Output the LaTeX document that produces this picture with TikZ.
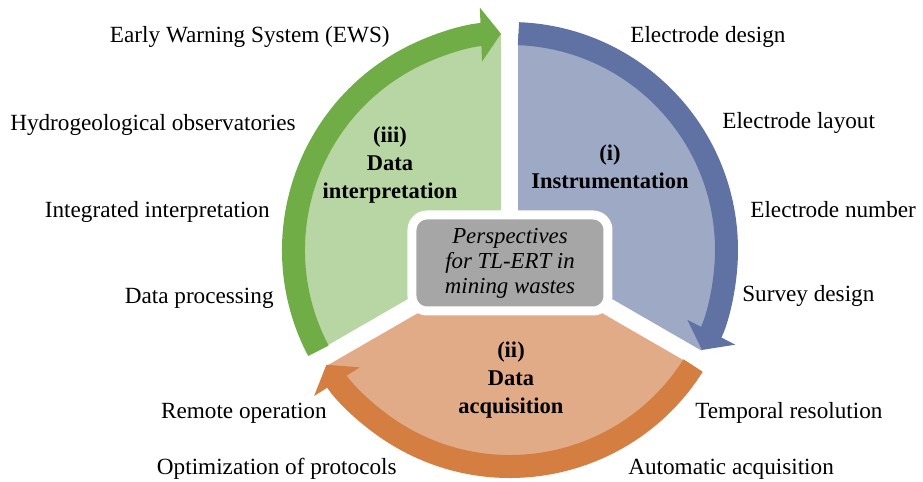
\documentclass[tikz,border=0pt]{standalone}
\usepackage{fontspec}
\setmainfont{Liberation Serif}
\usepackage{xcolor}
\usetikzlibrary{positioning,arrows.meta}

\definecolor{blueD}{HTML}{5F72A3}
\definecolor{blueL}{HTML}{9EA9C6}
\definecolor{greenD}{HTML}{70AD47}
\definecolor{greenL}{HTML}{B7D6A3}
\definecolor{orangeD}{HTML}{D47E42}
\definecolor{orangeL}{HTML}{E2AB88}
\definecolor{boxgray}{HTML}{A6A6A6}

\begin{document}
\begin{tikzpicture}[
    font=\fontsize{13.2}{15}\selectfont,
    every node/.style={align=center},
    band/.style={line width=0.46cm},
    tip/.style={-{Triangle[length=0.4cm,width=1.06cm]}},
    gap/.style={draw=white, line width=0.34cm},
    item/.style={inner sep=0pt},
    phase/.style={font=\fontsize{12.8}{16}\selectfont\bfseries}
]
\useasboundingbox (-10.2,-4.64) rectangle (8.26,5.0);

% Sectors
\fill[blueL] (0,0) -- (90:4.33) arc[start angle=90, end angle=-30, radius=4.33] -- cycle;
\fill[orangeL] (0,0) -- (-30:4.33) arc[start angle=-30, end angle=-150, radius=4.33] -- cycle;
\fill[greenL] (0,0) -- (210:4.33) arc[start angle=210, end angle=90, radius=4.33] -- cycle;

% Gaps
\foreach \a in {90,-30,210}
    \draw[gap] (0,0) -- (\a:4.8);

% Arrows
\draw[band, blueD, tip]
    (87.75:4.33) arc[start angle=87.75, end angle=-27.5, radius=4.33];
\draw[band, orangeD, tip]
    (-32.25:4.33) arc[start angle=-32.25, end angle=-148, radius=4.33];
\draw[band, greenD, tip]
    (207.75:4.33) arc[start angle=207.75, end angle=92.4, radius=4.33];

% Centre
\node[
    fill=boxgray,
    draw=white,
    line width=0.18cm,
    rounded corners=0.3cm,
    minimum width=3.92cm,
    minimum height=1.92cm,
    font=\fontsize{13}{14.2}\selectfont\itshape
] (centre) at (0,-0.26) {Perspectives\\for TL-ERT in\\mining wastes};

% Phases
\node[phase] (instr) at (2.0,1.66) {(i)\\Instrumentation};
\node[phase] (acq) at (0.02,-2.6) {(ii)\\Data\\acquisition};
\node[phase] (interp) at (-2.4,1.7) {(iii)\\Data\\interpretation};

% Right items
\node[item, anchor=west] (design) at (2.4,4.26) {Electrode design};
\node[item, anchor=west] (layout) at (4.24,2.54) {Electrode layout};
\node[item, anchor=west] (number) at (4.8,0.8) {Electrode number};
\node[item, anchor=west] (survey) at (4.64,-0.92) {Survey design};
\node[item, anchor=west] (temporal) at (3.7,-3.26) {Temporal resolution};
\node[item, anchor=west] (auto) at (2.36,-4.38) {Automatic acquisition};

% Left items
\node[item, anchor=east] (ews) at (-2.4,4.26) {Early Warning System (EWS)};
\node[item, anchor=east] (hydro) at (-4.28,2.5) {Hydrogeological observatories};
\node[item, anchor=east] (integ) at (-4.8,0.76) {Integrated interpretation};
\node[item, anchor=east] (proc) at (-4.72,-0.96) {Data processing};
\node[item, anchor=east] (remote) at (-3.66,-3.26) {Remote operation};
\node[item, anchor=east] (optim) at (-2.26,-4.38) {Optimization of protocols};

\end{tikzpicture}
\end{document}
